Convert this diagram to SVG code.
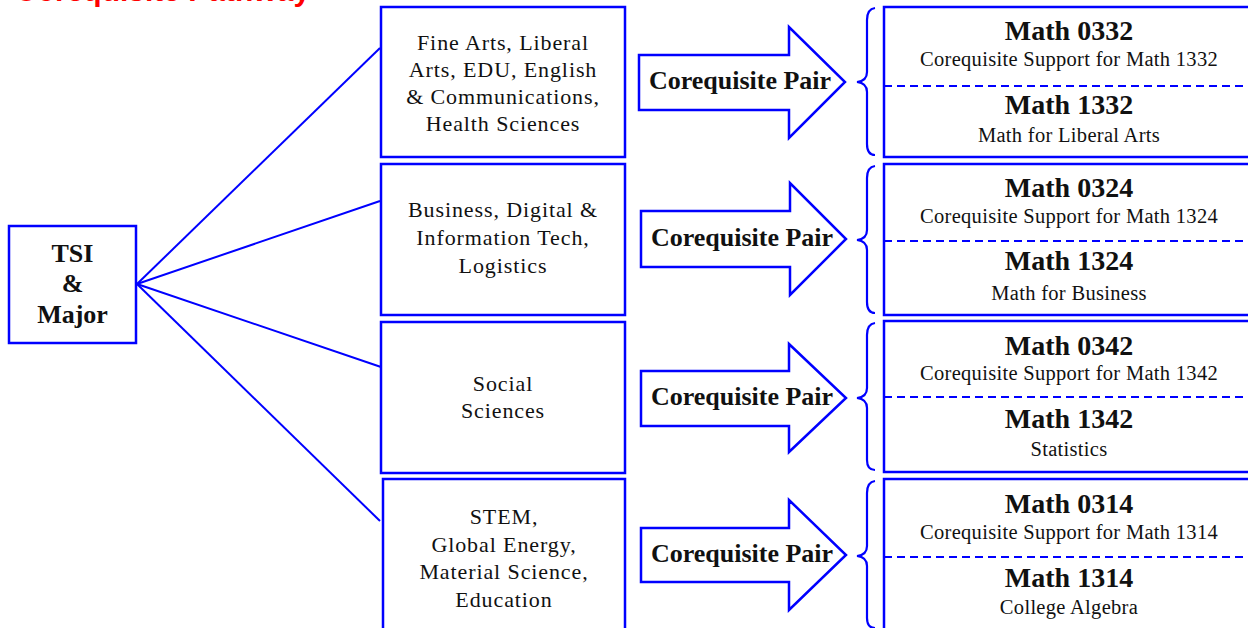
<svg xmlns="http://www.w3.org/2000/svg" width="1248" height="628" viewBox="0 0 1248 628">
<style>
.box{fill:#fff;stroke:#0000ff;stroke-width:2.5}
.ln{stroke:#0000ff;stroke-width:2;fill:none}
.dash{stroke:#0000ff;stroke-width:2;stroke-dasharray:8 5;fill:none}
.arr{fill:#fff;stroke:#0000ff;stroke-width:2.5;stroke-linejoin:miter}
.brace{fill:none;stroke:#0000ff;stroke-width:2.2}
.t{font-family:"Liberation Serif","Times New Roman",serif;fill:#111;text-anchor:middle}
.maj{font-size:22px;letter-spacing:0.9px}
.tsi{font-size:26px;font-weight:bold}
.pair{font-size:26px;font-weight:bold}
.code{font-size:28px;font-weight:bold}
.sub{font-size:20.5px;letter-spacing:0.3px}
.title{font-family:"Liberation Sans",Arial,sans-serif;font-size:30px;font-weight:bold;fill:#ff0000}
</style>
<text class="title" x="15" y="1">Corequisite Pathway</text>
<g id="connectors">
<line class="ln" x1="137" y1="284" x2="380" y2="48"/>
<line class="ln" x1="137" y1="284" x2="380" y2="201"/>
<line class="ln" x1="137" y1="284" x2="381" y2="367"/>
<line class="ln" x1="137" y1="284" x2="380" y2="521"/>
</g>
<g id="tsi">
<rect class="box" x="9" y="226" width="127" height="117"/>
<text class="t tsi" x="72.5" y="262">TSI</text>
<text class="t tsi" x="72.5" y="292">&amp;</text>
<text class="t tsi" x="72.5" y="323">Major</text>
</g>
<g id="major1">
<rect class="box" x="381" y="7" width="244" height="150"/>
<text class="t maj" x="503" y="50">Fine Arts, Liberal</text>
<text class="t maj" x="503" y="77">Arts, EDU, English</text>
<text class="t maj" x="503" y="104">&amp; Communications,</text>
<text class="t maj" x="503" y="131">Health Sciences</text>
</g>
<g id="major2">
<rect class="box" x="381" y="164" width="244" height="151"/>
<text class="t maj" x="503" y="217">Business,  Digital &amp;</text>
<text class="t maj" x="503" y="245">Information Tech,</text>
<text class="t maj" x="503" y="273">Logistics</text>
</g>
<g id="major3">
<rect class="box" x="381" y="322" width="244" height="151"/>
<text class="t maj" x="503" y="391">Social</text>
<text class="t maj" x="503" y="418">Sciences</text>
</g>
<g id="major4">
<rect class="box" x="383" y="479" width="242" height="160"/>
<text class="t maj" x="504" y="524">STEM,</text>
<text class="t maj" x="504" y="552">Global Energy,</text>
<text class="t maj" x="504" y="579">Material Science,</text>
<text class="t maj" x="504" y="607">Education</text>
</g>
<g id="arrow1">
<polygon class="arr" points="639,55 789,55 789,27 845,82 789,138 789,110 639,110"/>
<text class="t pair" x="740" y="89">Corequisite Pair</text>
</g>
<g id="arrow2">
<polygon class="arr" points="641,211 790,211 790,183 846,239 790,295 790,267 641,267"/>
<text class="t pair" x="742" y="246">Corequisite Pair</text>
</g>
<g id="arrow3">
<polygon class="arr" points="641,371 789,371 789,344 846,398 789,452 789,426 641,426"/>
<text class="t pair" x="742" y="405">Corequisite Pair</text>
</g>
<g id="arrow4">
<polygon class="arr" points="641,528 789,528 789,500 846,555 789,610 789,582 641,582"/>
<text class="t pair" x="742" y="562">Corequisite Pair</text>
</g>
<g id="brace1"><path class="brace" d="M875,8 Q867,9 867,20 L867,72 Q867,81 857,82 Q867,83 867,92 L867,144 Q867,155 875,155"/></g>
<g id="brace2"><path class="brace" d="M875,166 Q867,167 867,178 L867,230 Q867,239 857,240 Q867,241 867,250 L867,302 Q867,313 875,313"/></g>
<g id="brace3"><path class="brace" d="M875,323 Q867,324 867,335 L867,388 Q867,397 857,398 Q867,399 867,408 L867,460 Q867,470 875,470"/></g>
<g id="brace4"><path class="brace" d="M875,481 Q867,482 867,493 L867,546 Q867,555 857,556 Q867,557 867,566 L867,618 Q867,628 875,628"/></g>
<g id="course1">
<rect class="box" x="884" y="7" width="380" height="150"/>
<line class="dash" x1="884" y1="86" x2="1248" y2="86"/>
<text class="t code" x="1069" y="40">Math 0332</text>
<text class="t sub" x="1069" y="66">Corequisite Support for Math 1332</text>
<text class="t code" x="1069" y="114">Math 1332</text>
<text class="t sub" x="1069" y="142">Math for Liberal Arts</text>
</g>
<g id="course2">
<rect class="box" x="884" y="164" width="380" height="151"/>
<line class="dash" x1="884" y1="241" x2="1248" y2="241"/>
<text class="t code" x="1069" y="197">Math 0324</text>
<text class="t sub" x="1069" y="223">Corequisite Support for Math 1324</text>
<text class="t code" x="1069" y="270">Math 1324</text>
<text class="t sub" x="1069" y="300">Math for Business</text>
</g>
<g id="course3">
<rect class="box" x="884" y="321" width="380" height="151"/>
<line class="dash" x1="884" y1="397" x2="1248" y2="397"/>
<text class="t code" x="1069" y="355">Math 0342</text>
<text class="t sub" x="1069" y="380">Corequisite Support for Math 1342</text>
<text class="t code" x="1069" y="428">Math 1342</text>
<text class="t sub" x="1069" y="456">Statistics</text>
</g>
<g id="course4">
<rect class="box" x="884" y="479" width="380" height="160"/>
<line class="dash" x1="884" y1="557" x2="1248" y2="557"/>
<text class="t code" x="1069" y="513">Math 0314</text>
<text class="t sub" x="1069" y="539">Corequisite Support for Math 1314</text>
<text class="t code" x="1069" y="587">Math 1314</text>
<text class="t sub" x="1069" y="614">College Algebra</text>
</g>
</svg>
